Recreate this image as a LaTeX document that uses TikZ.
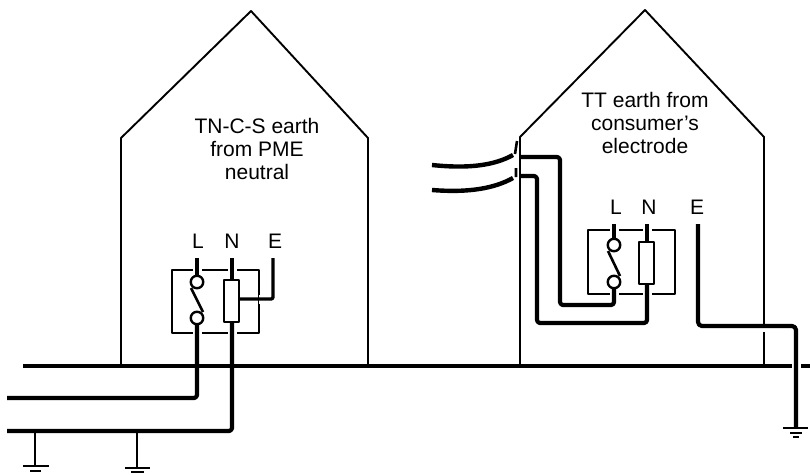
\documentclass[tikz,border=0pt]{standalone}
\usepackage{fontspec}
\setmainfont{Liberation Sans}
\tikzset{
	wall/.style={line width=1.9pt},
	board/.style={line width=1.7pt},
	wire/.style={line width=4.2pt,line join=round},
	halo/.style={white,line width=9pt},
	txt/.style={align=center,font=\fontsize{21}{23}\selectfont,inner sep=0pt},
	pole/.style={font=\fontsize{21}{23}\selectfont,inner sep=0pt},
	contact/.style={circle,draw,line width=2.4pt,fill=white,minimum size=12.5pt,inner sep=0pt}
}
\begin{document}
\begin{tikzpicture}[x=1pt,y=-1pt,line join=round,line cap=butt]
	\useasboundingbox (0,0) rectangle (810,474);
	\path
	(121,365) coordinate (A1)
	(121,138) coordinate (A2)
	(251,11) coordinate (A3)
	(368,138) coordinate (A4)
	(368,365) coordinate (A5)
	(520,365) coordinate (B1)
	(520,137) coordinate (B2)
	(645,10) coordinate (B3)
	(764,137) coordinate (B4)
	(764,365) coordinate (B5)
	(23,366) coordinate (M1)
	(810,366) coordinate (M2)
	(7,398) coordinate (P1)
	(197,398) coordinate (P2)
	(7,431) coordinate (Q1)
	(232,431) coordinate (Q2)
	(35,431) coordinate (G1)
	(35,466) coordinate (G2)
	(137,431) coordinate (H1)
	(137,468) coordinate (H2)
	(197,258) coordinate (LL)
	(232,258) coordinate (LN)
	(273,258) coordinate (LE)
	(273,299) coordinate (LF)
	(614,224) coordinate (RL)
	(647,224) coordinate (RN)
	(698,224) coordinate (RE)
	(698,326) coordinate (RF)
	(796,326) coordinate (RG)
	(796,428) coordinate (RH)
	(614,305) coordinate (S1)
	(560,305) coordinate (S2)
	(560,157) coordinate (S3)
	(521,157) coordinate (S4)
	(647,323) coordinate (T1)
	(537,323) coordinate (T2)
	(537,176) coordinate (T3)
	(521,176) coordinate (T4)
	(432,165) coordinate (U1)
	(513,155) coordinate (U2)
	(432,190) coordinate (V1)
	(513,178) coordinate (V2)
	;
	% houses
	\draw[wall] (A1)--(A2)--(A3)--(A4)--(A5) (B1)--(B2)--(B3)--(B4)--(B5);
	% supply
	\draw[wire] (M1)--(M2);
	% consumer units
	\draw[board] (172,270) rectangle (259,333);
	\draw[board] (588,230) rectangle (675,294);
	\draw[halo] (LL)--(197,340) (LN)--(232,340);
	\draw[halo] (LF)--(259,299) (RL)--(S1) (RN)--(647,302);
	\draw[halo] (796,340)--(796,380) (764,326)--(764,332);
	\draw[wire,rounded corners=3pt] (P1)--(P2)--(197,322);
	\draw[wire,rounded corners=3pt] (Q1)--(Q2)--(232,320);
	\draw[wire] (LL)--(197,278) (LN)--(232,280);
	\draw[wire,line width=3.4pt,rounded corners=2pt] (LE)--(LF)--(239,299);
	% switches and resistors
	\node[contact] (a) at (197,282) {};
	\node[contact] (b) at (197,318) {};
	\draw[line width=2.6pt] (191,288)--(203,312);
	\draw[line width=2.2pt,fill=white] (224,280) rectangle (239,322);
	\draw[wire] (RL)--(614,240);
	\draw[wire,rounded corners=3pt] (614,287)--(S1)--(S2)--(S3)--(S4);
	\draw[wire] (RN)--(647,242);
	\draw[wire,rounded corners=3pt] (647,284)--(T1)--(T2)--(T3)--(T4);
	\node[contact] (c) at (614,245) {};
	\node[contact] (d) at (614,282) {};
	\draw[line width=2.6pt] (608,251)--(620,276);
	\draw[line width=2.2pt,fill=white] (639,242) rectangle (654,284);
	\draw[wire,rounded corners=4pt] (RE)--(RF)--(RG)--(RH);
	% incoming cable
	\draw[wire,line width=4.4pt] (U1) .. controls (470,169) and (495,165) .. (U2);
	\draw[wire,line width=4.4pt] (V1) .. controls (470,193) and (495,188) .. (V2);
	\draw[line width=2.6pt] (517,141)--(515,154) (516,168)--(516,177);
	% earths
	\draw[wall,line width=2.2pt] (G1)--(G2) (H1)--(H2);
	\draw[line width=2.2pt] (23,466)--(49,466) (125,468)--(150,468) (783,428)--(808,428);
	\draw[line width=2.2pt] (30,471)--(41,471) (131,472)--(144,472) (790,433)--(802,433);
	\draw[line width=2.2pt] (793,437)--(799,437);
	% labels
	\node[txt] (tnc) at (257,149) {TN-C-S earth\\from PME\\neutral};
	\node[txt] (tt) at (645,123) {TT earth from\\consumer's\\electrode};
	\foreach \x/\y/\g in {198/241/L,232/241/N,275/241/E,616/207/L,649/207/N,697/207/E}
	\node[pole] (n\x) at (\x,\y) {\g};
\end{tikzpicture}
\end{document}
